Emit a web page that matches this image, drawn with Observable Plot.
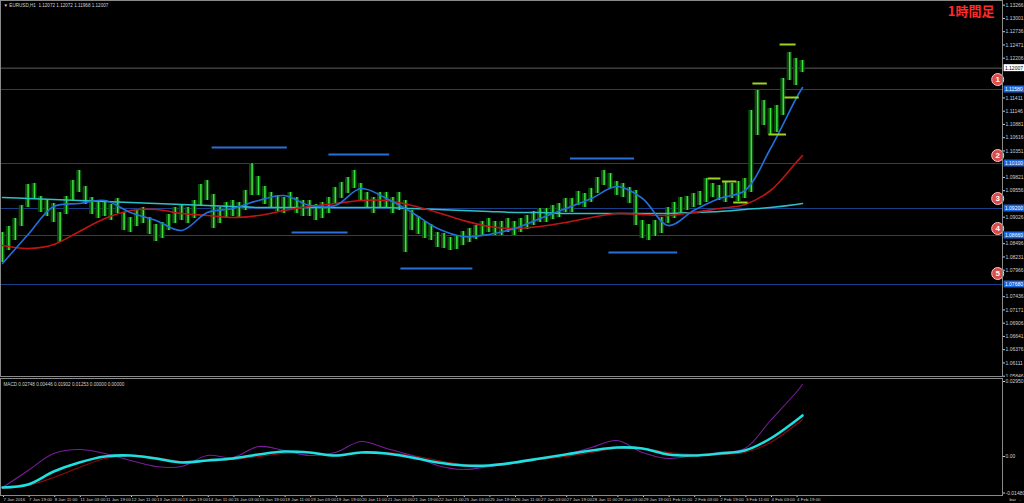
<!DOCTYPE html>
<html><head><meta charset="utf-8">
<script src="https://cdn.jsdelivr.net/npm/d3@7"></script>
<script src="https://cdn.jsdelivr.net/npm/@observablehq/plot@0.6"></script>
<style>
html,body{margin:0;padding:0;background:#000;}
#wrap{position:relative;width:1024px;height:503px;background:#000;overflow:hidden;}
#wrap svg{position:absolute;left:0;display:block;background:#000;overflow:visible;}
</style></head><body><div id="wrap"></div>
<script>
// ---------- texts ----------
const symbolTitle = "▼ EURUSD,H1  1.12072 1.12072 1.11968 1.12007";
const timeframeLabel = "1時間足";
const macdTitle = "MACD 0.02748 0.00446 0.01902 0.01253 0.00000 0.00000";

// ---------- candles (every 4th H1 bar) ----------
const candleBar = d3.range(0, 501, 4);
const candleHigh = [1.0872,1.0884,1.0900,1.0926,1.0968,1.0970,1.0944,1.0936,1.0930,1.0912,
1.0944,1.0976,1.0996,1.0964,1.0942,1.0932,1.0936,1.0928,1.0940,1.0912,
1.0902,1.0916,1.0922,1.0902,1.0888,1.0892,1.0908,1.0922,1.0928,1.0922,
1.0936,1.0968,1.0976,1.0948,1.0922,1.0932,1.0936,1.0932,1.0956,1.1010,
1.0984,1.0964,1.0952,1.0946,1.0942,1.0952,1.0942,1.0936,1.0936,1.0928,
1.0932,1.0942,1.0962,1.0972,1.0982,1.0996,1.0970,1.0952,1.0942,1.0952,
1.0952,1.0942,1.0952,1.0936,1.0916,1.0904,1.0894,1.0888,1.0872,1.0870,
1.0862,1.0866,1.0874,1.0880,1.0886,1.0894,1.0900,1.0894,1.0894,1.0900,
1.0894,1.0900,1.0906,1.0914,1.0920,1.0920,1.0926,1.0930,1.0940,1.0940,
1.0954,1.0950,1.0960,1.0982,1.0996,1.0990,1.0974,1.0970,1.0962,1.0956,
1.0896,1.0888,1.0896,1.0902,1.0922,1.0932,1.0942,1.0944,1.0950,1.0954,
1.0980,1.0970,1.0966,1.0974,1.0970,1.0974,1.0980,1.1116,1.1156,1.1136,
1.1120,1.1126,1.1180,1.1232,1.1220,1.1216];
const candleLow = [1.0812,1.0836,1.0856,1.0884,1.0922,1.0940,1.0912,1.0904,1.0892,1.0852,
1.0908,1.0936,1.0952,1.0928,1.0908,1.0900,1.0904,1.0896,1.0910,1.0876,
1.0872,1.0884,1.0890,1.0868,1.0854,1.0860,1.0876,1.0890,1.0896,1.0890,
1.0900,1.0926,1.0936,1.0880,1.0890,1.0900,1.0904,1.0900,1.0916,1.0946,
1.0946,1.0928,1.0920,1.0914,1.0910,1.0920,1.0910,1.0904,1.0904,1.0896,
1.0900,1.0910,1.0930,1.0940,1.0950,1.0960,1.0936,1.0920,1.0910,1.0920,
1.0920,1.0910,1.0916,1.0832,1.0876,1.0868,1.0860,1.0856,1.0842,1.0840,
1.0836,1.0838,1.0846,1.0852,1.0858,1.0866,1.0872,1.0866,1.0866,1.0872,
1.0866,1.0872,1.0878,1.0886,1.0892,1.0892,1.0898,1.0902,1.0912,1.0912,
1.0926,1.0922,1.0932,1.0950,1.0966,1.0960,1.0946,1.0942,1.0930,1.0886,
1.0860,1.0856,1.0864,1.0870,1.0890,1.0900,1.0910,1.0916,1.0922,1.0926,
1.0932,1.0942,1.0936,1.0932,1.0940,1.0934,1.0940,1.0952,1.1066,1.1086,
1.1068,1.1072,1.1106,1.1176,1.1166,1.1192];

// ---------- moving averages (every 16th bar) ----------
const maBars = d3.range(0, 497, 16).concat([500]);
const maFast = [1.0810,1.0868,1.0924,1.0930,1.0936,1.0912,1.0896,1.0876,1.0912,1.0920,
1.0936,1.0946,1.0926,1.0926,1.0960,1.0940,1.0912,1.0880,1.0864,1.0868,
1.0880,1.0900,1.0920,1.0940,1.0964,1.0940,1.0886,1.0916,1.0940,1.0956,
1.1040,1.1140,1.1162];
const maSlow = [1.0846,1.0840,1.0848,1.0874,1.0900,1.0916,1.0918,1.0910,1.0906,1.0902,
1.0906,1.0916,1.0924,1.0930,1.0936,1.0936,1.0926,1.0912,1.0896,1.0884,
1.0880,1.0884,1.0892,1.0902,1.0910,1.0908,1.0906,1.0912,1.0920,1.0928,
1.0956,1.1012,1.1026];
const maLong = [1.0942,1.0940,1.0938,1.0936,1.0934,1.0932,1.0930,1.0928,1.0926,1.0924,
1.0922,1.0922,1.0922,1.0922,1.0922,1.0922,1.0920,1.0918,1.0916,1.0914,
1.0912,1.0912,1.0910,1.0910,1.0910,1.0910,1.0910,1.0912,1.0914,1.0918,
1.0922,1.0928,1.0930];

// ---------- MACD (every 16th bar) ----------
const macdMain = [-0.0124,-0.0112,-0.0060,-0.0024,0.0000,0.0004,-0.0008,-0.0024,-0.0016,-0.0008,
0.0008,0.0020,0.0016,0.0004,0.0016,0.0012,-0.0004,-0.0024,-0.0036,-0.0036,
-0.0024,-0.0008,0.0008,0.0024,0.0036,0.0032,0.0008,0.0004,0.0012,0.0024,
0.0072,0.0144,0.0164];
const macdFast = [-0.0124,-0.0056,0.0012,0.0028,0.0012,-0.0016,-0.0040,-0.0040,0.0004,-0.0004,
0.0040,0.0024,0.0004,0.0016,0.0060,0.0032,0.0004,-0.0036,-0.0052,-0.0040,
-0.0024,-0.0008,0.0008,0.0036,0.0064,0.0016,-0.0008,0.0004,0.0016,0.0032,
0.0144,0.0256,0.0288];
const macdSignal = [-0.0128,-0.0116,-0.0084,-0.0044,-0.0008,0.0004,-0.0004,-0.0020,-0.0016,-0.0012,
0.0000,0.0012,0.0016,0.0008,0.0016,0.0016,0.0004,-0.0016,-0.0032,-0.0036,
-0.0028,-0.0012,0.0000,0.0016,0.0032,0.0032,0.0016,0.0008,0.0008,0.0016,
0.0056,0.0128,0.0148];

// ---------- horizontal levels ----------
const levelPrices = [1.1158, 1.1010, 1.0920, 1.0866, 1.0768];
const levelNames = ["1", "2", "3", "4", "5"];
const levelBadgePrices = [1.1178, 1.1026, 1.0940, 1.0880, 1.0790];
const currentPrice = 1.12007;

// swing high / low segments (bar from, bar to, price)
const swingFrom = [131, 204, 355, 181, 249, 379];
const swingTo = [178, 242, 395, 216, 294, 422];
const swingPrice = [1.1042, 1.1028, 1.1020, 1.0872, 1.0800, 1.0832];

// fractal marks
const fractalFrom = [469, 486, 489, 479, 441, 450, 457];
const fractalTo = [478, 496, 498, 490, 449, 459, 466];
const fractalPrice = [1.1170, 1.1248, 1.1142, 1.1068, 1.0980, 1.0974, 1.0932];

// ---------- axis ticks ----------
const priceTicks = [1.13266,1.13001,1.12736,1.12471,1.12206,1.11941,1.11676,1.11411,1.11146,1.10881,
1.10616,1.10351,1.10086,1.09821,1.09556,1.09291,1.09026,1.08761,1.08496,1.08231,
1.07966,1.07701,1.07436,1.07171,1.06906,1.06641,1.06376,1.06111,1.05846];
const macdTicks = [0.0300, 0, -0.0146];
const macdTickLabels = ["0.02950", "0.00", "-0.01480"];
const timeTickBars = d3.range(0, 497, 16);
const timeTickLabels = ["7 Jan 2016","7 Jan 19:00","8 Jan 11:00","11 Jan 03:00","11 Jan 19:00","12 Jan 11:00",
"13 Jan 03:00","13 Jan 19:00","14 Jan 11:00","15 Jan 03:00","15 Jan 19:00","18 Jan 11:00",
"19 Jan 03:00","19 Jan 19:00","20 Jan 11:00","21 Jan 03:00","21 Jan 19:00","22 Jan 11:00",
"25 Jan 03:00","25 Jan 19:00","26 Jan 11:00","27 Jan 03:00","27 Jan 19:00","28 Jan 11:00",
"29 Jan 03:00","29 Jan 19:00","1 Feb 11:00","2 Feb 03:00","2 Feb 19:00","3 Feb 11:00",
"4 Feb 03:00","4 Feb 19:00"];

// ---------- tables ----------
const candles = candleBar.map((b, i) => ({bar: b, high: candleHigh[i], low: candleLow[i]}));
const maTable = maBars.map((b, i) => ({bar: b, fast: maFast[i], slow: maSlow[i], long: maLong[i]}));
const macdTable = maBars.map((b, i) => ({bar: b, main: macdMain[i], fast: macdFast[i], signal: macdSignal[i]}));
const swings = swingFrom.map((f, i) => ({from: f, to: swingTo[i], price: swingPrice[i]}));
const fractals = fractalFrom.map((f, i) => ({from: f, to: fractalTo[i], price: fractalPrice[i]}));
const badges = levelNames.map((n, i) => ({name: n, price: levelBadgePrices[i]}));
const axisBoxes = [{price: currentPrice, fill: "#ffffff", text: "#000"}]
  .concat(levelPrices.map(p => ({price: p, fill: "#1a64d8", text: "#fff"})));
// price ticks hidden where a price box sits on the axis
const shownPriceTicks = priceTicks.filter(t => axisBoxes.every(b => Math.abs(b.price - t) > 0.0013));
const timeLabelMap = new Map(timeTickBars.map((b, i) => [b, timeTickLabels[i]]));
const fmt5 = d3.format(".5f");

const font = "Liberation Sans, Arial, sans-serif";
const narrow = "Liberation Sans Narrow, Liberation Sans, Arial, sans-serif";
const xScale = {type: "linear", domain: [-1.25, 625], range: [0, 1002], axis: null};
const curve = "catmull-rom";

const main = Plot.plot({
  width: 1024, height: 377,
  marginLeft: 0, marginRight: 22, marginTop: 0, marginBottom: 1,
  style: {background: "#000", color: "#cfcfcf", fontFamily: font, overflow: "visible"},
  x: xScale,
  y: {domain: [1.0584, 1.1336], range: [376, 0], axis: null},
  marks: [
    Plot.ruleY(levelPrices, {stroke: "#1b3f8a", strokeWidth: 1}),
    Plot.ruleY([currentPrice], {stroke: "#5e5e5e", strokeWidth: 1}),
    Plot.rect(candles, {x1: d => d.bar - 1.6, x2: d => d.bar + 1.6, y1: "low", y2: "high", fill: "#0c4a0e"}),
    Plot.ruleX(candles, {x: "bar", y1: "low", y2: "high", stroke: "#3ee43e", strokeWidth: 1.5}),
    Plot.line(maTable, {x: "bar", y: "long", stroke: "#2cc0c8", strokeWidth: 1.5, curve}),
    Plot.line(maTable, {x: "bar", y: "slow", stroke: "#c01414", strokeWidth: 1.6, curve}),
    Plot.line(maTable, {x: "bar", y: "fast", stroke: "#2270dc", strokeWidth: 1.6, curve}),
    Plot.ruleY(swings, {y: "price", x1: "from", x2: "to", stroke: "#2a6fd8", strokeWidth: 2}),
    Plot.ruleY(fractals, {y: "price", x1: "from", x2: "to", stroke: "#9ad61c", strokeWidth: 2}),
    Plot.axisY({anchor: "right", ticks: shownPriceTicks, tickFormat: fmt5, tickSize: 2, tickPadding: 1,
      fontSize: 5, color: "#cfcfcf"}),
    Plot.rect(axisBoxes, {x1: 626, x2: 639, y1: d => d.price - 0.0007, y2: d => d.price + 0.0007, fill: "fill"}),
    Plot.text(axisBoxes, {x: 626.5, y: "price", text: d => fmt5(d.price), fill: "text", fontSize: 5, textAnchor: "start"}),
    Plot.dot(badges, {x: 622, y: "price", r: 6, fill: "#dc4a4a", stroke: "#ffc4c4", strokeWidth: 1}),
    Plot.text(badges, {x: 622, y: "price", text: "name", fill: "#ffffff", fontSize: 8, fontWeight: "bold"}),
    Plot.text([symbolTitle], {frameAnchor: "top-left", dx: 3, dy: 3, fontSize: 4.6, fill: "#d0d0d0",
      textAnchor: "start", lineAnchor: "top", fontFamily: narrow}),
    Plot.text([timeframeLabel], {frameAnchor: "top-right", dx: -8, dy: 6, fontSize: 13, fontWeight: "bold",
      fill: "#ff2a2a", textAnchor: "end", lineAnchor: "top", fontFamily: "Noto Sans CJK JP"}),
    Plot.frame({stroke: "#8a8a8a"})
  ]
});

const macd = Plot.plot({
  width: 1024, height: 126,
  marginLeft: 0, marginRight: 22, marginTop: 1, marginBottom: 8,
  style: {background: "#000", color: "#cfcfcf", fontFamily: font, overflow: "visible"},
  x: xScale,
  y: {domain: [-0.0156, 0.0312], range: [118, 1], axis: null},
  marks: [
    Plot.line(macdTable, {x: "bar", y: "signal", stroke: "#8b0c0c", strokeWidth: 1.1, curve}),
    Plot.line(macdTable, {x: "bar", y: "fast", stroke: "#7a1c9a", strokeWidth: 1.1, curve}),
    Plot.line(macdTable, {x: "bar", y: "main", stroke: "#1ee0e0", strokeWidth: 2.6, curve}),
    Plot.axisX({anchor: "bottom", ticks: timeTickBars, tickFormat: d => timeLabelMap.get(d), tickSize: 2,
      tickPadding: 0, textAnchor: "start", dx: 1, fontSize: 4.4, fontFamily: narrow, color: "#cfcfcf"}),
    Plot.axisY({anchor: "right", ticks: macdTicks, tickFormat: d => macdTickLabels[macdTicks.indexOf(d)],
      tickSize: 2, tickPadding: 1, fontSize: 5, color: "#cfcfcf"}),
    Plot.text([macdTitle], {frameAnchor: "top-left", dx: 3, dy: 4, fontSize: 4.6, fill: "#d0d0d0",
      textAnchor: "start", lineAnchor: "top", fontFamily: narrow}),
    Plot.frame({stroke: "#8a8a8a"})
  ]
});

const wrap = document.getElementById("wrap");
main.style.top = "0px";
macd.style.top = "377px";
wrap.appendChild(main);
wrap.appendChild(macd);
</script>
</body></html>
